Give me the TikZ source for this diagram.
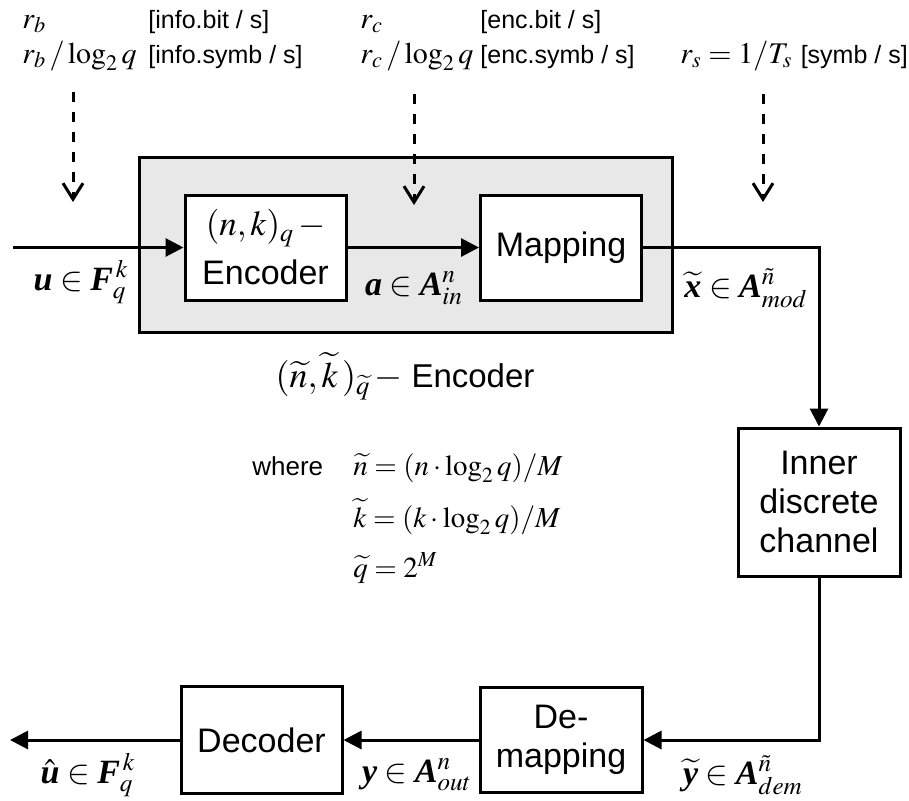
\documentclass[tikz,border=0pt]{standalone}
\usepackage{amsmath}
\usepackage{mathptmx}
\usepackage[no-math]{fontspec}
\setmainfont{Liberation Sans}
\newfontfamily\tnr{Liberation Serif}
\newcommand{\bv}[1]{\text{\tnr\bfseries\itshape #1}}
\usetikzlibrary{arrows.meta}

\tikzset{
  block/.style={draw, line width=1.5pt, fill=white, align=center, inner sep=0pt,
    minimum width=80.5pt, minimum height=52.5pt, font=\fontsize{17}{19.5}\selectfont},
  sig/.style={line width=1.5pt, -{Triangle[length=9pt,width=9pt]}},
  rate/.style={line width=1.5pt, dash pattern=on 5pt off 5pt,
    -{Straight Barb[length=8pt,width=10pt]}},
  vec/.style={inner sep=0pt, font=\fontsize{17}{20}\selectfont},
  unit/.style={anchor=base west, inner sep=0pt, font=\fontsize{12.5}{15}\selectfont},
  ratemath/.style={anchor=base west, inner sep=0pt, font=\fontsize{15}{18}\selectfont},
}

\begin{document}
\begin{tikzpicture}[x=0.5pt, y=-0.5pt]
    \useasboundingbox (0,0) rectangle (909,800);

    % Outer (shaded) code: encoder + mapping
    \node[draw, line width=1.5pt, fill=black!9, inner sep=0pt,
          minimum width=266.5pt, minimum height=87.5pt] (outer) at (405.5,244.5) {};

    % Blocks
    \node[block] (enc) at (265.5,247.5)
        {{\fontsize{17.5}{20}\selectfont $(n,k)_q\,-$}\\[5pt]Encoder};
    \node[block] (map) at (561,247.5) {Mapping};
    \node[block, minimum width=81pt, minimum height=74pt] (chan) at (819,502)
        {Inner\\discrete\\channel};
    \node[block, minimum width=81pt] (demap) at (561,740) {De-\\mapping};
    \node[block, minimum height=53.5pt] (dec) at (261.5,740) {Decoder};

    % Free ends of the chain
    \coordinate (src) at (13,247.5);
    \coordinate (sink) at (10,740);

    % Signal path
    \draw[sig] (src) -- (enc.west);
    \draw[sig] (enc.east) -- (map.west);
    \draw[sig] (map.east) -| (chan.north);
    \draw[sig] (chan.south) |- (demap.east);
    \draw[sig] (demap.west) -- (dec.east);
    \draw[sig] (dec.west) -- (sink);

    % Signal labels
    \node[vec] (u) at (81,282) {$\bv{u}\in\bv{F}_q^{\,k}$};
    \node[vec] (a) at (414,288) {$\bv{a}\in\bv{A}_{in}^{n}$};
    \node[vec] (xt) at (746,288) {$\widetilde{\bv{x}}\in\bv{A}_{mod}^{\tilde n}$};
    \node[vec] (yt) at (743,775) {$\widetilde{\bv{y}}\in\bv{A}_{dem}^{\tilde n}$};
    \node[vec] (y) at (417,775) {$\bv{y}\in\bv{A}_{out}^{n}$};
    \node[vec] (uh) at (88,775) {$\hat{\bv{u}}\in\bv{F}_q^{\,k}$};

    % Overall code
    \node[inner sep=0pt, font=\fontsize{16.5}{19}\selectfont] (cap) at (405,376)
        {{\fontsize{18}{21}\selectfont $(\widetilde n,\widetilde k\,)_{\widetilde q}\,-$} Encoder};

    \node[anchor=base west, inner sep=0pt, font=\fontsize{13}{16}\selectfont] (where) at (252,475) {where};
    \node[ratemath, font=\fontsize{14.5}{17}\selectfont] (defn) at (353,475)
        {$\widetilde n=(n\cdot\log_2 q)/M$};
    \node[ratemath, font=\fontsize{14.5}{17}\selectfont] (defk) at (353,527)
        {$\widetilde k=(k\cdot\log_2 q)/M$};
    \node[ratemath, font=\fontsize{14.5}{17}\selectfont] (defq) at (353,577)
        {$\widetilde q=2^M$};

    % Rates
    \node[ratemath] (rb) at (22,28) {$r_b$};
    \node[ratemath] (rblog) at (22,63) {$r_b\,/\log_2 q$};
    \node[unit] (infobit) at (148,28) {[info.bit / s]};
    \node[unit] (infosymb) at (148,63) {[info.symb / s]};
    \node[ratemath] (rc) at (360,28) {$r_c$};
    \node[ratemath] (rclog) at (360,63) {$r_c\,/\log_2 q$};
    \node[unit] (encbit) at (480,28) {[enc.bit / s]};
    \node[unit] (encsymb) at (480,63) {[enc.symb / s]};
    \node[ratemath] (rs) at (680,63)
        {$r_s=1/T_s$ {\fontsize{12.5}{15}\selectfont [symb / s]}};

    % Where the rates are measured
    \coordinate (rbtop) at (73,92);   \coordinate (rbtip) at (73,202);
    \coordinate (rctop) at (414,94);  \coordinate (rctip) at (414,205);
    \coordinate (rstop) at (763,94);  \coordinate (rstip) at (763,202);
    \draw[rate] (rbtop) -- (rbtip);
    \draw[rate] (rctop) -- (rctip);
    \draw[rate] (rstop) -- (rstip);
\end{tikzpicture}
\end{document}
